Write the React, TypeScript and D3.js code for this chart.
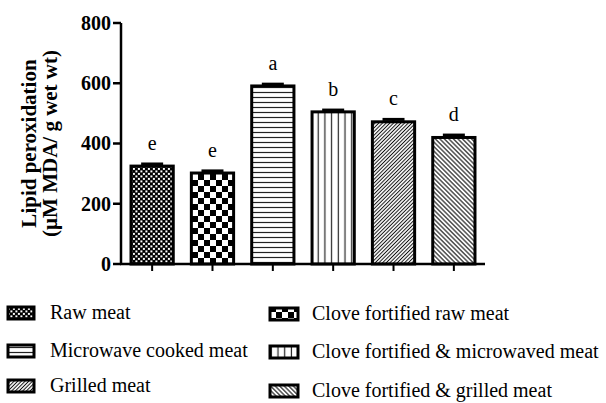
import React from "react"
import * as d3 from "d3"

// bar groups, in the order they are drawn
const groups = [
  "Raw meat",
  "Clove fortified raw meat",
  "Microwave cooked meat",
  "Clove fortified & microwaved meat",
  "Grilled meat",
  "Clove fortified & grilled meat",
]
const values = [325, 302, 591, 505, 472, 420]
const errors = [7, 7, 6, 6, 8, 8]
const letters = ["e", "e", "a", "b", "c", "d"]
const patternIds = ["pRaw", "pCloveRaw", "pMicro", "pCloveMicro", "pGrill", "pCloveGrill"]
const yTicks = [0, 200, 400, 600, 800]

// legend layout: [column, row] for each group
const legendSlots = [
  [0, 0],
  [1, 0],
  [0, 1],
  [1, 1],
  [0, 2],
  [1, 2],
]

const serif = "Liberation Serif, Times New Roman, serif"

function Patterns() {
  return (
    <defs>
      <pattern id="pRaw" width={5} height={5} patternUnits="userSpaceOnUse">
        <rect width={5} height={5} fill="#000" />
        <rect x={0.4} y={0.4} width={2} height={2} fill="#fff" />
        <rect x={2.9} y={2.9} width={2} height={2} fill="#fff" />
      </pattern>
      <pattern id="pCloveRaw" width={12} height={12} patternUnits="userSpaceOnUse">
        <rect width={12} height={12} fill="#fff" />
        <rect x={0} y={0} width={6} height={6} fill="#000" />
        <rect x={6} y={6} width={6} height={6} fill="#000" />
      </pattern>
      <pattern id="pMicro" width={8} height={5} patternUnits="userSpaceOnUse">
        <rect width={8} height={5} fill="#fff" />
        <line x1={0} x2={8} y1={2.5} y2={2.5} stroke="#222" strokeWidth={1.2} />
      </pattern>
      <pattern id="pCloveMicro" width={6.7} height={8} patternUnits="userSpaceOnUse">
        <rect width={6.7} height={8} fill="#fff" />
        <line x1={3.3} x2={3.3} y1={0} y2={8} stroke="#222" strokeWidth={1.2} />
      </pattern>
      <pattern
        id="pGrill"
        width={2.6}
        height={8}
        patternUnits="userSpaceOnUse"
        patternTransform="rotate(45)"
      >
        <rect width={2.6} height={8} fill="#fff" />
        <line x1={1.3} x2={1.3} y1={0} y2={8} stroke="#111" strokeWidth={1} />
      </pattern>
      <pattern
        id="pCloveGrill"
        width={3.2}
        height={8}
        patternUnits="userSpaceOnUse"
        patternTransform="rotate(-45)"
      >
        <rect width={3.2} height={8} fill="#fff" />
        <line x1={1.6} x2={1.6} y1={0} y2={8} stroke="#111" strokeWidth={1.1} />
      </pattern>
    </defs>
  )
}

export default function App() {
  const width = 606
  const height = 403

  const x = d3
    .scaleBand()
    .domain(groups)
    .range([121, 485])
    .paddingInner(0.3)
    .paddingOuter(0.166)

  const y = d3.scaleLinear().domain([0, 800]).range([264, 23])

  const legendX = d3.scaleOrdinal<number, number>().domain([0, 1]).range([8, 270])
  const legendY = [313, 351, 386]
  const legendYRight = [314, 352, 391]

  return (
    <svg
      width={width}
      height={height}
      style={{ position: "absolute", left: 0, top: 0, background: "#fff" }}
      fontFamily={serif}
    >
      <Patterns />

      {/* bars */}
      {groups.map((g, i) => (
        <rect
          key={g}
          x={x(g)}
          y={y(values[i])}
          width={x.bandwidth()}
          height={y(0) - y(values[i])}
          fill={`url(#${patternIds[i]})`}
          stroke="#000"
          strokeWidth={3}
        />
      ))}

      {/* error bars */}
      {groups.map((g, i) => {
        const cx = (x(g) ?? 0) + x.bandwidth() / 2
        return (
          <g key={g} stroke="#000" strokeWidth={3}>
            <line x1={cx} x2={cx} y1={y(values[i])} y2={y(values[i] + errors[i])} />
            <line
              x1={cx - 11}
              x2={cx + 11}
              y1={y(values[i] + errors[i])}
              y2={y(values[i] + errors[i])}
            />
          </g>
        )
      })}

      {/* significance letters */}
      {groups.map((g, i) => (
        <text
          key={g}
          x={(x(g) ?? 0) + x.bandwidth() / 2}
          y={y(values[i] + errors[i]) - 14}
          textAnchor="middle"
          fontSize={20}
        >
          {letters[i]}
        </text>
      ))}

      {/* y axis */}
      <line x1={121} x2={121} y1={y(800)} y2={y(0)} stroke="#000" strokeWidth={2.5} />
      {yTicks.map(t => (
        <g key={t}>
          <line x1={113} x2={121} y1={y(t)} y2={y(t)} stroke="#000" strokeWidth={2.5} />
          <text
            x={111}
            y={y(t)}
            dy="0.34em"
            textAnchor="end"
            fontSize={20}
            fontWeight="bold"
          >
            {t}
          </text>
        </g>
      ))}

      {/* x axis */}
      <line x1={120} x2={485} y1={y(0)} y2={y(0)} stroke="#000" strokeWidth={2.5} />
      {groups.map(g => {
        const cx = (x(g) ?? 0) + x.bandwidth() / 2
        return (
          <line key={g} x1={cx} x2={cx} y1={y(0)} y2={y(0) + 7} stroke="#000" strokeWidth={2} />
        )
      })}

      {/* y axis title */}
      <g transform={`translate(36, ${(y(0) + y(800)) / 2}) rotate(-90)`}>
        <text textAnchor="middle" fontSize={21} fontWeight="bold">
          Lipid peroxidation
        </text>
        <text y={21} textAnchor="middle" fontSize={21} fontWeight="bold">
          (µM MDA/ g wet wt)
        </text>
      </g>

      {/* legend */}
      {groups.map((g, i) => {
        const [col, row] = legendSlots[i]
        const lx = legendX(col)
        const cy = col === 0 ? legendY[row] : legendYRight[row]
        return (
          <g key={g}>
            <rect
              x={lx}
              y={cy - 6}
              width={col === 0 ? 26 : 28}
              height={12}
              fill={`url(#${patternIds[i]})`}
              stroke="#000"
              strokeWidth={3}
            />
            <text x={col === 0 ? 50 : 312} y={cy + 6} fontSize={20}>
              {g}
            </text>
          </g>
        )
      })}
    </svg>
  )
}
